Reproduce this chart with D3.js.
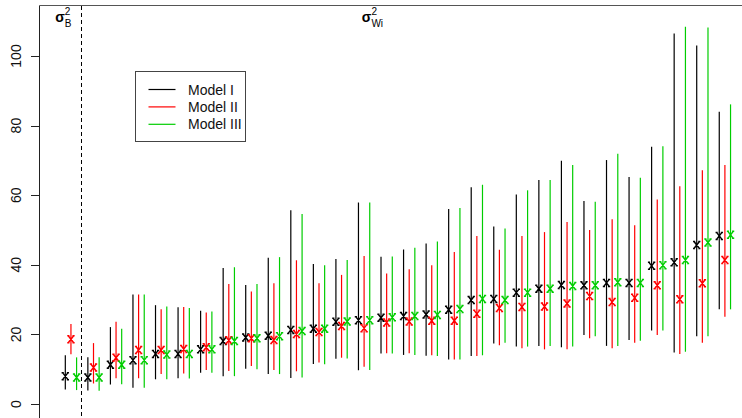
<!DOCTYPE html>
<html>
<head>
<meta charset="utf-8">
<script src="https://cdn.jsdelivr.net/npm/d3@7"></script>
<style>
  html, body { margin: 0; padding: 0; background: #fff; }
  svg { display: block; font-family: "Liberation Sans", Arial, sans-serif; }
</style>
</head>
<body>
<div id="chart"></div>
<script>
const width = 742;
const height = 418;

// index 1 = sigma_B, 2..30 = sigma_Wi
const groups = d3.range(1, 31);
const models = ["Model I", "Model II", "Model III"];
const colors = ["#000000", "#ff0000", "#00cd00"];
const yTicks = [0, 20, 40, 60, 80, 100];

const estI  = [8.0, 7.6, 11.3, 12.6, 14.4, 14.4, 15.7, 18.1, 19.1, 19.6, 21.3, 21.6, 23.6, 24.1, 24.8, 25.3, 25.7, 27.1, 29.9, 30.2, 32.0, 33.1, 34.2, 34.1, 34.8, 34.8, 39.7, 40.7, 45.7, 48.3];
const loI   = [4.2, 3.9, 5.6, 4.7, 7.1, 7.4, 9.0, 8.0, 10.1, 8.6, 7.5, 11.5, 13.0, 9.7, 14.5, 14.1, 13.9, 12.8, 13.8, 17.4, 16.5, 16.7, 16.3, 19.8, 16.7, 18.4, 21.1, 14.8, 19.5, 27.2];
const hiI   = [14.0, 13.4, 22.1, 31.5, 28.4, 27.8, 26.8, 39.1, 34.2, 42.0, 55.7, 40.2, 41.7, 57.9, 42.3, 44.4, 46.1, 56.0, 62.3, 51.0, 60.2, 64.4, 69.9, 58.3, 70.1, 65.2, 73.9, 106.5, 103.0, 84.0];

const estII = [18.6, 10.5, 13.3, 15.5, 15.5, 15.8, 16.3, 18.3, 18.9, 18.4, 20.1, 20.7, 22.4, 21.8, 23.4, 23.7, 23.9, 23.9, 25.9, 27.6, 27.9, 28.0, 28.9, 31.0, 29.3, 30.5, 34.1, 30.1, 34.7, 41.4];
const loII  = [14.3, 5.9, 7.4, 7.4, 8.6, 8.8, 9.8, 9.5, 10.9, 9.8, 9.4, 11.9, 13.3, 10.7, 14.6, 14.6, 14.0, 12.8, 13.8, 16.9, 16.0, 15.7, 15.7, 18.9, 16.0, 17.6, 19.8, 14.4, 17.6, 25.1];
const hiII  = [23.0, 17.5, 23.6, 31.5, 27.2, 27.9, 26.3, 34.5, 32.3, 34.7, 41.3, 34.7, 37.1, 42.5, 37.5, 38.7, 39.9, 43.7, 48.3, 44.3, 48.3, 49.4, 52.3, 50.0, 53.1, 51.4, 58.8, 62.6, 67.2, 68.7];

const estIII = [7.6, 7.6, 11.3, 12.6, 14.2, 14.4, 15.7, 18.1, 18.9, 19.5, 21.0, 21.6, 23.7, 24.1, 24.9, 25.3, 25.6, 27.3, 30.2, 29.9, 32.0, 33.1, 33.9, 34.1, 35.0, 34.8, 39.9, 41.4, 46.4, 48.6];
const loIII  = [4.0, 3.8, 5.7, 4.7, 7.1, 7.3, 9.0, 8.0, 10.0, 8.6, 7.6, 11.4, 13.1, 9.8, 14.5, 14.1, 13.8, 12.8, 14.0, 17.6, 16.5, 16.7, 16.5, 19.5, 16.7, 18.2, 21.1, 15.0, 19.5, 27.2];
const hiIII  = [13.4, 13.4, 21.6, 31.5, 28.0, 27.6, 26.6, 39.3, 34.5, 42.2, 54.6, 39.9, 41.4, 57.9, 42.4, 44.9, 46.7, 56.3, 63.0, 50.4, 61.4, 64.4, 68.7, 58.1, 71.9, 65.0, 74.1, 108.4, 108.2, 86.1];

const series = [
  { est: estI, lo: loI, hi: hiI, offset: -0.25 },
  { est: estII, lo: loII, hi: hiII, offset: 0 },
  { est: estIII, lo: loIII, hi: hiIII, offset: 0.25 }
];

const x = d3.scaleLinear().domain([1, 30]).range([70.95, 724.9]);
const y = d3.scaleLinear().domain([0, 100]).range([404, 56]);

const svg = d3.select("#chart").append("svg")
  .attr("width", width)
  .attr("height", height);

svg.append("rect").attr("width", width).attr("height", height).attr("fill", "#fff");

// box (only left and top visible)
svg.append("line")
  .attr("x1", 39.5).attr("x2", 39.5).attr("y1", 5.5).attr("y2", height)
  .attr("stroke", "#222").attr("stroke-width", 1);
svg.append("line")
  .attr("x1", 39.5).attr("x2", width).attr("y1", 5.5).attr("y2", 5.5)
  .attr("stroke", "#555").attr("stroke-width", 1);

// y axis
const yAxis = svg.append("g");
yTicks.forEach(t => {
  yAxis.append("line")
    .attr("x1", 31).attr("x2", 39.5)
    .attr("y1", Math.round(y(t)) + 0.5).attr("y2", Math.round(y(t)) + 0.5)
    .attr("stroke", "#222");
  yAxis.append("text")
    .attr("transform", `translate(20.5,${y(t)}) rotate(-90)`)
    .attr("text-anchor", "middle")
    .attr("font-size", "14px")
    .attr("fill", "#111")
    .text(t);
});

// separator between sigma_B and sigma_Wi
svg.append("line")
  .attr("x1", Math.round(x(1.45)) + 0.5).attr("x2", Math.round(x(1.45)) + 0.5)
  .attr("y1", 6).attr("y2", height)
  .attr("stroke", "#000").attr("stroke-dasharray", "4,3");

// group labels
function sigmaLabel(cx, sub) {
  const t = svg.append("text")
    .attr("x", cx).attr("y", 22)
    .attr("font-size", "14px")
    .attr("fill", "#000");
  t.append("tspan").attr("font-weight", "bold").text("σ");
  const w = t.node().getComputedTextLength();
  t.append("tspan").attr("x", cx + w).attr("dy", -7).attr("font-size", "10px").text("2");
  t.append("tspan").attr("x", cx + w).attr("dy", 12).attr("font-size", "10px").text(sub);
}
sigmaLabel(x(0.3), "B");
sigmaLabel(x(13.9), "Wi");

// "x" marker drawn as a path, with small caps at the tips
const xMark = "M-2.7,-3.5L2.7,3.5M2.7,-3.5L-2.7,3.5" +
  "M-3.7,-3.5H-1.5M1.5,-3.5H3.7M-3.7,3.5H-1.5M1.5,3.5H3.7";

// intervals and estimates
series.forEach((s, k) => {
  const g = svg.append("g");
  g.selectAll("line")
    .data(groups)
    .join("line")
    .attr("x1", d => x(d + s.offset))
    .attr("x2", d => x(d + s.offset))
    .attr("y1", (d, i) => y(s.lo[i]))
    .attr("y2", (d, i) => y(s.hi[i]))
    .attr("stroke", colors[k])
    .attr("stroke-width", 1.2);
  g.selectAll("path")
    .data(groups)
    .join("path")
    .attr("transform", (d, i) => `translate(${x(d + s.offset)},${y(s.est[i])})`)
    .attr("d", xMark)
    .attr("fill", "none")
    .attr("stroke", colors[k])
    .attr("stroke-width", 1.5);
});

// legend
const legend = svg.append("g").attr("transform", "translate(135.5,71.5)");
legend.append("rect")
  .attr("width", 110).attr("height", 70)
  .attr("fill", "#fff").attr("stroke", "#444");
models.forEach((m, i) => {
  legend.append("line")
    .attr("x1", 13).attr("x2", 40)
    .attr("y1", 18 + i * 17.4).attr("y2", 18 + i * 17.4)
    .attr("stroke", colors[i]).attr("stroke-width", 1.2);
  legend.append("text")
    .attr("x", 52.5).attr("y", 23 + i * 17.4)
    .attr("font-size", "14px")
    .attr("fill", "#111")
    .text(m);
});
</script>
</body>
</html>
